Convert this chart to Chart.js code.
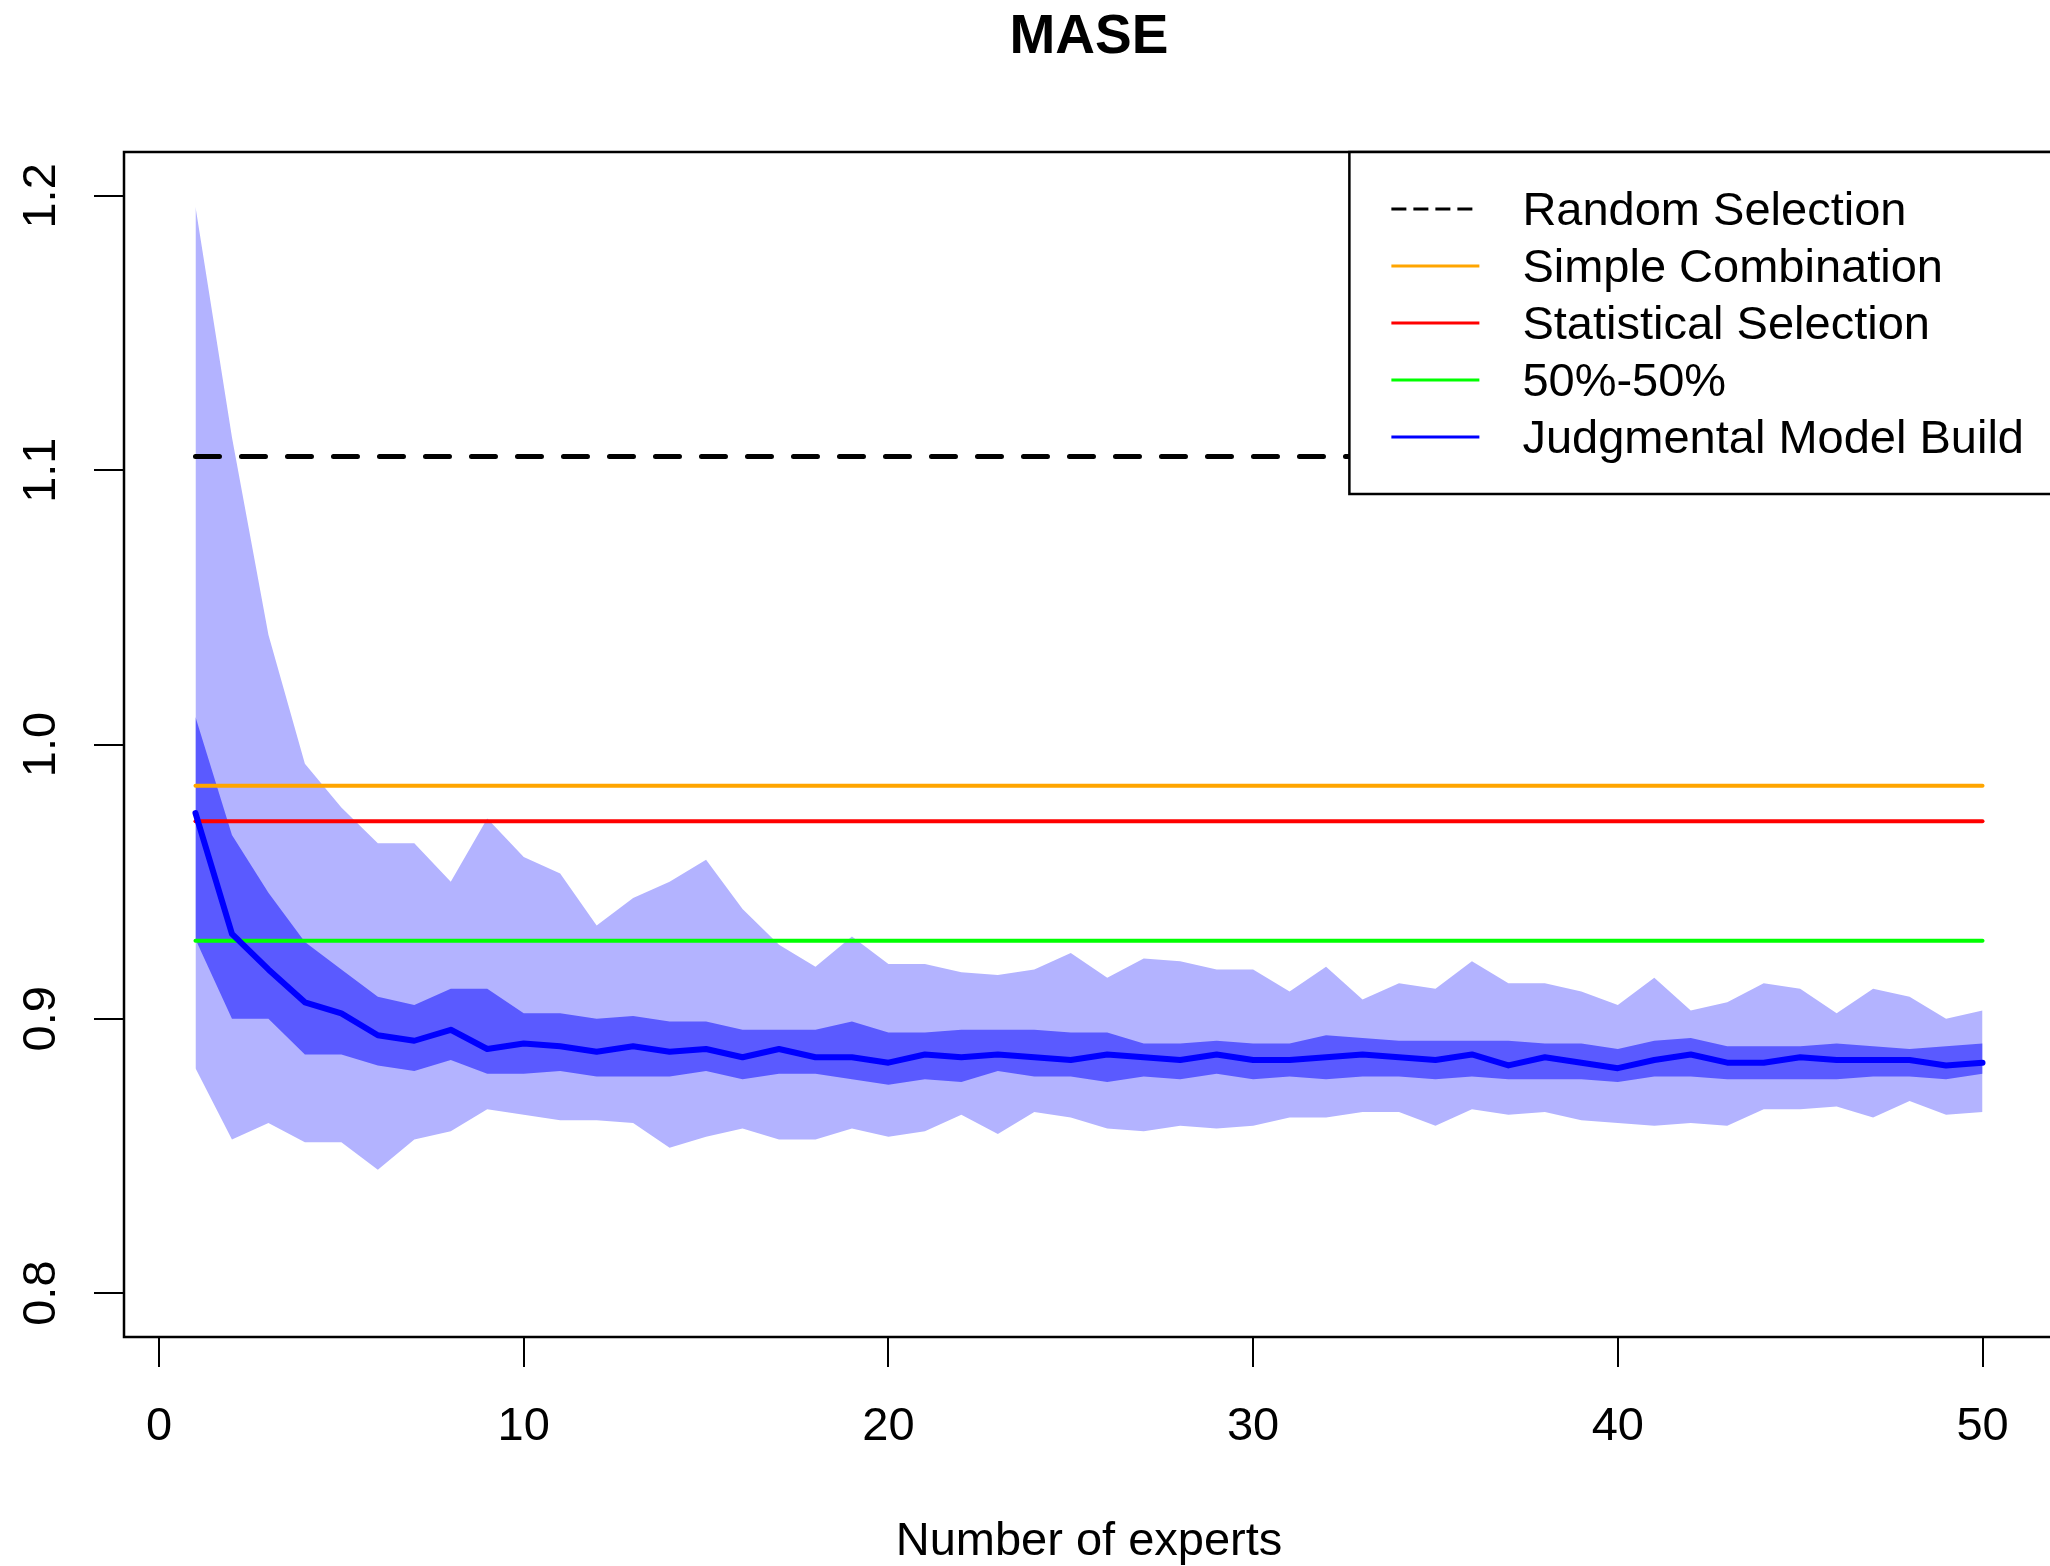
<!DOCTYPE html>
<html>
<head>
<meta charset="utf-8">
<title>MASE</title>
<script src="https://cdn.jsdelivr.net/npm/chart.js@4.4.1/dist/chart.umd.min.js"></script>
<style>
  html, body { margin: 0; padding: 0; background: #fff; overflow: hidden; }
  #wrap { position: relative; width: 2060px; height: 1566px; }
</style>
</head>
<body>
<div id="wrap"><canvas id="maseChart"></canvas></div>
<script>
// number of experts (x)
const experts = [1, 2, 3, 4, 5, 6, 7, 8, 9, 10, 11, 12, 13, 14, 15, 16, 17, 18, 19, 20,
  21, 22, 23, 24, 25, 26, 27, 28, 29, 30, 31, 32, 33, 34, 35, 36, 37, 38, 39, 40,
  41, 42, 43, 44, 45, 46, 47, 48, 49, 50];

// judgmental model build: mean and the two bands
const jmbMean = [0.975, 0.931, 0.918, 0.906, 0.902, 0.894, 0.892, 0.896, 0.889, 0.891,
  0.890, 0.888, 0.890, 0.888, 0.889, 0.886, 0.889, 0.886, 0.886, 0.884,
  0.887, 0.886, 0.887, 0.886, 0.885, 0.887, 0.886, 0.885, 0.887, 0.885,
  0.885, 0.886, 0.887, 0.886, 0.885, 0.887, 0.883, 0.886, 0.884, 0.882,
  0.885, 0.887, 0.884, 0.884, 0.886, 0.885, 0.885, 0.885, 0.883, 0.884];
const innerUpper = [1.010, 0.967, 0.946, 0.928, 0.918, 0.908, 0.905, 0.911, 0.911, 0.902,
  0.902, 0.900, 0.901, 0.899, 0.899, 0.896, 0.896, 0.896, 0.899, 0.895,
  0.895, 0.896, 0.896, 0.896, 0.895, 0.895, 0.891, 0.891, 0.892, 0.891,
  0.891, 0.894, 0.893, 0.892, 0.892, 0.892, 0.892, 0.891, 0.891, 0.889,
  0.892, 0.893, 0.890, 0.890, 0.890, 0.891, 0.890, 0.889, 0.890, 0.891];
const innerLower = [0.929, 0.900, 0.900, 0.887, 0.887, 0.883, 0.881, 0.885, 0.880, 0.880,
  0.881, 0.879, 0.879, 0.879, 0.881, 0.878, 0.880, 0.880, 0.878, 0.876,
  0.878, 0.877, 0.881, 0.879, 0.879, 0.877, 0.879, 0.878, 0.880, 0.878,
  0.879, 0.878, 0.879, 0.879, 0.878, 0.879, 0.878, 0.878, 0.878, 0.877,
  0.879, 0.879, 0.878, 0.878, 0.878, 0.878, 0.879, 0.879, 0.878, 0.880];
const outerUpper = [1.196, 1.112, 1.040, 0.993, 0.977, 0.964, 0.964, 0.950, 0.973, 0.959,
  0.953, 0.934, 0.944, 0.950, 0.958, 0.940, 0.927, 0.919, 0.930, 0.920,
  0.920, 0.917, 0.916, 0.918, 0.924, 0.915, 0.922, 0.921, 0.918, 0.918,
  0.910, 0.919, 0.907, 0.913, 0.911, 0.921, 0.913, 0.913, 0.910, 0.905,
  0.915, 0.903, 0.906, 0.913, 0.911, 0.902, 0.911, 0.908, 0.900, 0.903];
const outerLower = [0.882, 0.856, 0.862, 0.855, 0.855, 0.845, 0.856, 0.859, 0.867, 0.865,
  0.863, 0.863, 0.862, 0.853, 0.857, 0.860, 0.856, 0.856, 0.860, 0.857,
  0.859, 0.865, 0.858, 0.866, 0.864, 0.860, 0.859, 0.861, 0.860, 0.861,
  0.864, 0.864, 0.866, 0.866, 0.861, 0.867, 0.865, 0.866, 0.863, 0.862,
  0.861, 0.862, 0.861, 0.867, 0.867, 0.868, 0.864, 0.870, 0.865, 0.866];

// benchmark levels
const randomSelection = 1.105;
const simpleCombination = 0.985;
const statisticalSelection = 0.972;
const fiftyFifty = 0.9285;

const xTicks = [0, 10, 20, 30, 40, 50];
const yTicks = [0.8, 0.9, 1.0, 1.1, 1.2];

const FONT = '"Liberation Sans", Arial, sans-serif';
Chart.defaults.font.family = FONT;
Chart.defaults.color = '#000';

function pts(values) {
  return experts.map((x, i) => ({ x: x, y: values[i] }));
}
function flat(v) {
  return [{ x: experts[0], y: v }, { x: experts[experts.length - 1], y: v }];
}
const noLine = { borderWidth: 0, borderColor: 'rgba(0,0,0,0)', pointRadius: 0 };

// box around the plot region
const frame = {
  id: 'frame',
  afterDatasetsDraw(chart) {
    const a = chart.chartArea, ctx = chart.ctx;
    ctx.save();
    ctx.strokeStyle = '#000';
    ctx.lineWidth = 2.5;
    ctx.strokeRect(a.left, a.top, a.right - a.left, a.bottom - a.top);
    ctx.restore();
  }
};

// R-style legend box at the top right
const boxLegend = {
  id: 'boxLegend',
  afterDraw(chart) {
    const ctx = chart.ctx, a = chart.chartArea;
    const items = chart.data.datasets.filter(d => d.inLegend);
    ctx.save();
    ctx.font = '47px ' + FONT;
    const maxW = Math.max(...items.map(d => ctx.measureText(d.label).width));
    const rowH = 57;
    const right = a.right, top = a.top;
    const textX = right - 30 - maxW;
    const left = textX - 173;
    const bottom = top + rowH * (items.length + 1);
    ctx.fillStyle = '#fff';
    ctx.fillRect(left, top, right - left, bottom - top);
    ctx.strokeStyle = '#000';
    ctx.lineWidth = 2.5;
    ctx.strokeRect(left, top, right - left, bottom - top);
    items.forEach((d, i) => {
      const y = top + rowH * (i + 1);
      ctx.beginPath();
      ctx.setLineDash(d.legendDash || []);
      ctx.strokeStyle = d.borderColor;
      ctx.lineWidth = 3;
      ctx.moveTo(left + 42, y);
      ctx.lineTo(left + 130, y);
      ctx.stroke();
      ctx.setLineDash([]);
      ctx.fillStyle = '#000';
      ctx.textBaseline = 'middle';
      ctx.fillText(d.label, textX, y + 3);
    });
    ctx.restore();
  }
};

new Chart(document.getElementById('maseChart'), {
  type: 'line',
  data: {
    datasets: [
      Object.assign({ data: pts(outerLower), fill: false, order: 10 }, noLine),
      Object.assign({ data: pts(outerUpper), fill: '-1', backgroundColor: '#b3b3ff', order: 9 }, noLine),
      Object.assign({ data: pts(innerLower), fill: false, order: 8 }, noLine),
      Object.assign({ data: pts(innerUpper), fill: '-1', backgroundColor: '#5a5aff', order: 7 }, noLine),
      { label: 'Random Selection', inLegend: true, data: flat(randomSelection), borderColor: '#000000',
        borderWidth: 5, borderDash: [24, 22], borderCapStyle: 'round', legendDash: [15, 7], pointRadius: 0, order: 5 },
      { label: 'Simple Combination', inLegend: true, data: flat(simpleCombination), borderColor: '#ffa500',
        borderWidth: 4, borderCapStyle: 'round', pointRadius: 0, order: 4 },
      { label: 'Statistical Selection', inLegend: true, data: flat(statisticalSelection), borderColor: '#ff0000',
        borderWidth: 4, borderCapStyle: 'round', pointRadius: 0, order: 3 },
      { label: '50%-50%', inLegend: true, data: flat(fiftyFifty), borderColor: '#00ff00',
        borderWidth: 4, borderCapStyle: 'round', pointRadius: 0, order: 2 },
      { label: 'Judgmental Model Build', inLegend: true, data: pts(jmbMean), borderColor: '#0000ff',
        borderWidth: 6, borderCapStyle: 'round', borderJoinStyle: 'round', pointRadius: 0, order: 1 }
    ]
  },
  options: {
    responsive: true,
    maintainAspectRatio: false,
    animation: false,
    layout: { padding: { left: 0, top: 0, right: 6, bottom: 0 } },
    plugins: {
      legend: { display: false },
      tooltip: { enabled: false },
      title: {
        display: true,
        text: 'MASE',
        fullSize: false,
        color: '#000',
        font: { size: 55, weight: 'bold', lineHeight: 1 },
        padding: { top: 10, bottom: 87 }
      }
    },
    scales: {
      x: {
        type: 'linear',
        min: -0.96,
        max: 51.96,
        afterBuildTicks: s => { s.ticks = xTicks.map(v => ({ value: v })); },
        afterFit: s => { s.height = 229; },
        border: { display: false },
        grid: { drawOnChartArea: false, drawTicks: true, tickLength: 30, color: '#000', tickColor: '#000', lineWidth: 2 },
        ticks: { color: '#000', font: { size: 47 }, padding: 32, maxRotation: 0, autoSkip: false },
        title: { display: true, text: 'Number of experts', color: '#000', font: { size: 47, lineHeight: 1 }, padding: { top: 0, bottom: 0 } }
      },
      y: {
        type: 'linear',
        min: 0.784,
        max: 1.216,
        afterBuildTicks: s => { s.ticks = yTicks.map(v => ({ value: v })); },
        afterFit: s => { s.width = 124; },
        border: { display: false },
        grid: { drawOnChartArea: false, drawTicks: true, tickLength: 30, color: '#000', tickColor: '#000', lineWidth: 2 },
        ticks: {
          color: '#000', font: { size: 47 }, padding: 19, minRotation: 90, maxRotation: 90,
          crossAlign: 'center', autoSkip: false,
          callback: v => v.toFixed(1)
        }
      }
    }
  },
  plugins: [frame, boxLegend]
});
</script>
</body>
</html>
